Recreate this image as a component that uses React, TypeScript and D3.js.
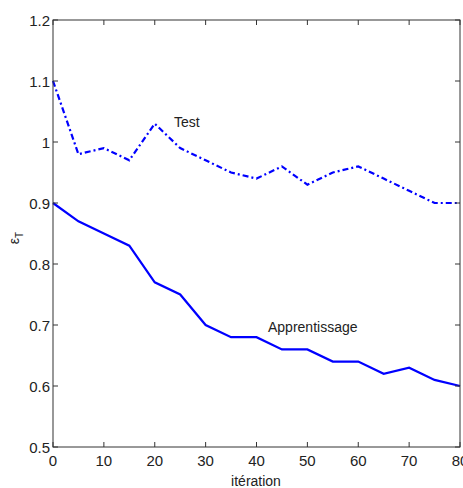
import React from "react";
import * as d3 from "d3";

const iterations = [0, 5, 10, 15, 20, 25, 30, 35, 40, 45, 50, 55, 60, 65, 70, 75, 80];
const testValues = [1.10, 0.98, 0.99, 0.97, 1.03, 0.99, 0.97, 0.95, 0.94, 0.96, 0.93, 0.95, 0.96, 0.94, 0.92, 0.90, 0.90];
const trainValues = [0.90, 0.87, 0.85, 0.83, 0.77, 0.75, 0.70, 0.68, 0.68, 0.66, 0.66, 0.64, 0.64, 0.62, 0.63, 0.61, 0.60];
const xTicks = [0, 10, 20, 30, 40, 50, 60, 70, 80];
const yTicks = [0.5, 0.6, 0.7, 0.8, 0.9, 1.0, 1.1, 1.2];
const yTickLabels = ["0.5", "0.6", "0.7", "0.8", "0.9", "1", "1.1", "1.2"];

const W = 463, H = 488;
const L = 53, R = 460, T = 20, B = 447;
const FONT = "'Liberation Sans Narrow', 'Liberation Sans', Arial, sans-serif";

export default function App() {
  const x = d3.scaleLinear().domain([0, 80]).range([L, R]);
  const y = d3.scaleLinear().domain([0.5, 1.2]).range([B, T]);
  const line = d3.line<number>().x((_, i) => x(iterations[i])).y((d) => y(d));
  const axisColor = "#333";
  const tickLen = 5;
  return (
    <svg width={W} height={H} style={{ position: "absolute", left: 0, top: 0, background: "#fff" }}>
      <rect x={0} y={0} width={W} height={H} fill="#fff" />
      <path d={line(trainValues) || ""} fill="none" stroke="#0000ff" strokeWidth={2.2} />
      <path d={line(testValues) || ""} fill="none" stroke="#0000ff" strokeWidth={2.2} strokeDasharray="6,3,2,3" />
      {/* box */}
      <rect x={L} y={T} width={R - L} height={B - T} fill="none" stroke={axisColor} strokeWidth={1} />
      {xTicks.map((t) => (
        <g key={"x" + t}>
          <line x1={x(t)} x2={x(t)} y1={B} y2={B - tickLen} stroke={axisColor} />
          <line x1={x(t)} x2={x(t)} y1={T} y2={T + tickLen} stroke={axisColor} />
          <text x={x(t)} y={B + 19} textAnchor="middle" fontFamily={FONT} fontSize={15} fill="#222">{t}</text>
        </g>
      ))}
      {yTicks.map((t, i) => (
        <g key={"y" + t}>
          <line x1={L} x2={L + tickLen} y1={y(t)} y2={y(t)} stroke={axisColor} />
          <line x1={R} x2={R - tickLen} y1={y(t)} y2={y(t)} stroke={axisColor} />
          <text x={L - 3} y={y(t) + 6} textAnchor="end" fontFamily={FONT} fontSize={15} fill="#222">{yTickLabels[i]}</text>
        </g>
      ))}
      <text x={256} y={486} textAnchor="middle" fontFamily={FONT} fontSize={14} fill="#222">itération</text>
      <g transform="translate(19,238) rotate(-90)">
        <text x={0} y={0} textAnchor="middle" fontFamily={FONT} fontSize={14} fill="#222">
          ε<tspan fontSize={10} dy={4}>T</tspan>
        </text>
      </g>
      <text x={174} y={127} fontFamily={FONT} fontSize={14} fill="#222">Test</text>
      <text x={268} y={332} fontFamily={FONT} fontSize={14} fill="#222">Apprentissage</text>
    </svg>
  );
}
